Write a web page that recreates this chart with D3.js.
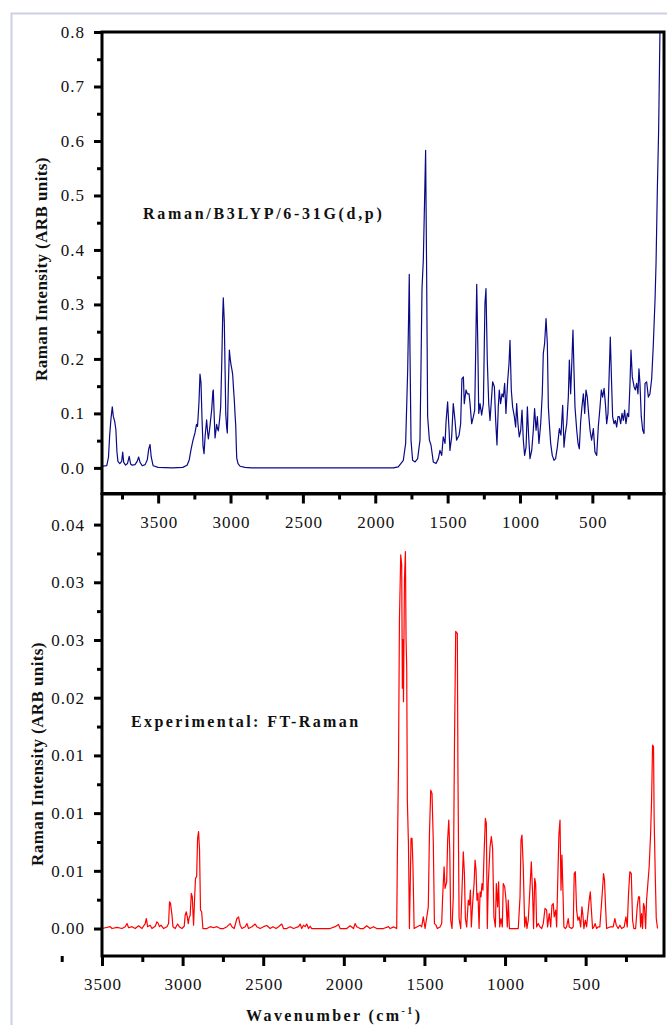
<!DOCTYPE html>
<html><head><meta charset="utf-8">
<script src="https://cdn.jsdelivr.net/npm/d3@7"></script>
<style>body{margin:0;background:#fff}svg{display:block}</style>
</head><body><svg id="c" width="667" height="1025"></svg>
<script>
// ---------- data ----------
const calcWavenumber = [3888,3855,3843,3835,3826,3817,3810,3800,3792,3785,3778,3765,3752,3745,3738,3725,3712,3700,3690,3680,3660,3645,3635,3625,3610,3590,3575,3565,3556,3548,3535,3500,3400,3330,3300,3285,3272,3260,3245,3235,3228,3218,3211,3204,3197,3190,3183,3175,3165,3158,3153,3145,3142,3130,3122,3119,3112,3107,3100,3096,3090,3084,3075,3068,3060,3054,3050,3043,3037,3033,3027,3022,3015,3008,3002,2997,2990,2985,2978,2974,2968,2964,2960,2957,2948,2934,2900,2854,1967,1875,1841,1806,1790,1776,1769,1765,1760,1753,1742,1725,1707,1691,1684,1677,1668,1659,1652,1645,1638,1626,1615,1599,1580,1564,1553,1541,1530,1518,1511,1500,1490,1484,1472,1461,1449,1438,1421,1410,1401,1391,1385,1373,1364,1352,1345,1334,1322,1313,1306,1299,1292,1285,1276,1265,1253,1242,1235,1226,1216,1207,1196,1189,1177,1168,1159,1150,1143,1134,1124,1115,1106,1097,1085,1076,1069,1060,1051,1039,1030,1023,1014,1005,995,986,977,968,958,949,940,931,919,908,899,889,880,869,857,846,839,830,820,811,804,797,788,777,765,754,742,728,717,705,696,687,677,666,659,650,643,634,627,620,608,599,590,581,572,562,553,544,535,526,516,505,493,482,470,459,447,438,429,419,410,401,392,383,376,367,360,350,341,332,323,314,304,295,286,277,268,258,249,240,233,224,212,203,194,185,178,171,162,152,143,136,125,113,102,90,79,67,60,51,42,33,25];
const calcIntensity = [0.003,0.004,0.02,0.06,0.09,0.112,0.095,0.085,0.07,0.03,0.012,0.008,0.012,0.029,0.01,0.005,0.008,0.021,0.007,0.005,0.006,0.012,0.02,0.01,0.004,0.006,0.015,0.035,0.043,0.02,0.004,0.001,0,0.001,0.005,0.015,0.035,0.05,0.065,0.08,0.076,0.12,0.172,0.156,0.09,0.04,0.026,0.06,0.088,0.065,0.053,0.07,0.077,0.107,0.14,0.143,0.09,0.055,0.07,0.08,0.072,0.068,0.09,0.112,0.2,0.28,0.312,0.268,0.17,0.1,0.075,0.064,0.15,0.216,0.2,0.19,0.18,0.171,0.14,0.125,0.095,0.077,0.04,0.018,0.008,0.003,0.001,0,0,0,0.002,0.014,0.045,0.179,0.286,0.355,0.213,0.051,0.014,0.011,0.017,0.051,0.185,0.329,0.381,0.494,0.583,0.357,0.094,0.051,0.042,0.011,0.008,0.017,0.032,0.023,0.057,0.045,0.084,0.121,0.069,0.032,0.057,0.118,0.087,0.051,0.06,0.081,0.164,0.167,0.118,0.143,0.136,0.136,0.118,0.081,0.094,0.106,0.216,0.337,0.234,0.1,0.118,0.097,0.118,0.302,0.329,0.198,0.118,0.087,0.13,0.158,0.149,0.087,0.042,0.112,0.143,0.118,0.136,0.13,0.155,0.1,0.16,0.191,0.234,0.143,0.112,0.094,0.075,0.118,0.081,0.057,0.069,0.106,0.051,0.023,0.038,0.112,0.057,0.017,0.032,0.069,0.109,0.069,0.094,0.045,0.081,0.136,0.21,0.228,0.274,0.228,0.112,0.081,0.045,0.023,0.014,0.017,0.038,0.072,0.06,0.115,0.038,0.063,0.081,0.13,0.198,0.136,0.185,0.253,0.179,0.112,0.069,0.045,0.035,0.084,0.112,0.136,0.1,0.143,0.13,0.1,0.069,0.051,0.072,0.029,0.023,0.075,0.112,0.143,0.13,0.146,0.118,0.081,0.1,0.179,0.24,0.155,0.094,0.081,0.087,0.075,0.094,0.094,0.081,0.1,0.087,0.106,0.081,0.1,0.094,0.155,0.216,0.167,0.149,0.143,0.155,0.136,0.182,0.155,0.094,0.069,0.063,0.155,0.158,0.13,0.136,0.164,0.225,0.308,0.375,0.51,0.62,0.8,0.95];

const exptWavenumber = [3500,3449,3438,3407,3376,3356,3345,3335,3314,3294,3273,3252,3232,3225,3217,3201,3190,3170,3159,3153,3143,3134,3118,3097,3087,3081,3075,3066,3060,3046,3031,3021,3004,2990,2984,2977,2971,2965,2959,2953,2946,2940,2932,2926,2920,2913,2907,2901,2895,2889,2882,2874,2849,2829,2808,2787,2767,2746,2725,2705,2694,2680,2663,2653,2643,2632,2612,2601,2591,2570,2550,2540,2519,2498,2478,2457,2440,2420,2405,2385,2374,2354,2333,2312,2281,2271,2261,2250,2240,2230,2219,2209,2199,2168,2126,2085,2054,2033,2023,1982,1961,1940,1930,1920,1899,1878,1858,1837,1816,1796,1754,1723,1713,1690,1672,1668,1661,1655,1647,1641,1637,1633,1630,1624,1618,1614,1610,1606,1599,1593,1589,1583,1577,1571,1564,1548,1527,1517,1507,1496,1476,1469,1461,1453,1445,1438,1428,1420,1403,1393,1387,1378,1372,1362,1356,1349,1343,1337,1329,1321,1314,1306,1300,1296,1292,1285,1275,1267,1259,1252,1246,1238,1228,1221,1215,1209,1201,1192,1186,1180,1174,1168,1161,1155,1149,1143,1137,1131,1122,1116,1110,1104,1093,1085,1077,1069,1060,1054,1046,1040,1033,1025,1017,1011,1002,994,986,980,973,959,938,918,907,901,895,887,878,870,864,856,845,837,829,823,816,810,804,794,783,773,763,752,742,736,726,717,709,701,695,686,680,672,666,659,653,647,641,635,626,618,608,602,587,577,571,564,556,548,540,531,523,517,511,502,494,484,478,471,465,457,449,441,432,422,412,403,395,389,383,376,370,350,329,319,310,298,288,277,261,250,242,234,226,217,209,201,190,180,172,166,159,153,147,141,135,128,122,114,106,97,91,85,79,75,68,62,54];
const exptIntensity = [0,0.00016,0,0.0001,0,0.00016,0.00043,0.00007,0.00016,0,0.00024,0,0.00043,0.00087,0.00016,0.00029,0,0.0002,0.00058,0.00049,0.00016,0.00029,0,0.00016,0.00043,0.00232,0.00218,0.00116,0.00016,0,0.00039,0.00016,0,0.0002,0.00116,0.00145,0.00101,0.00043,0.00096,0.00116,0.00305,0.00276,0.00029,0.00247,0.00435,0.00449,0.00781,0.00839,0.0068,0.0016,0.00145,0,0,0.00016,0.00007,0.00016,0,0,0.00016,0.00043,0.00016,0,0.00087,0.00101,0.00029,0,0.00016,0.00043,0,0.00016,0.00039,0.00016,0,0.00016,0.00026,0,0.00016,0,0.00016,0.00039,0,0,0.00016,0,0.00016,0.00039,0,0.00029,0.00016,0.00039,0,0.0002,0,0,0,0,0.00016,0.00035,0,0,0.00024,0,0.00043,0.00016,0,0,0.00024,0,0.00016,0,0,0.00016,0,0.00014,0,0.00607,0.01402,0.02674,0.03237,0.0315,0.02082,0.02503,0.01966,0.0302,0.03266,0.02503,0.02269,0.01113,0.00723,0,0.00304,0.00781,0.00781,0.00535,0,0.00014,0.00029,0.00014,0.00101,0,0.00188,0.0081,0.01199,0.0117,0.00752,0.00043,0.00029,0,0.00014,0.00043,0.00275,0.00535,0.00347,0.00405,0.00767,0.0094,0.0068,0.00072,0,0.00275,0.01546,0.02575,0.0256,0.0256,0.01316,0.00087,0,0.00332,0.00665,0.00477,0.00087,0.00014,0.00246,0.00202,0.00332,0.00014,0.00217,0.0039,0.00593,0.00506,0.00246,0.00304,0,0.00318,0.00275,0.0039,0.00332,0.00607,0.00955,0.00911,0,0.0039,0.00709,0.00796,0.00694,0.00101,0.00014,0.0039,0.00188,0.00405,0.00014,0.00087,0.00014,0.0039,0.00361,0.00246,0.00014,0.00246,0,0,0,0,0.00275,0.00767,0.0081,0.00535,0.00014,0.00101,0,0.00072,0.00361,0.00578,0.00304,0,0.00434,0.0039,0.00014,0.00043,0.00014,0,0.00043,0.00174,0.00159,0.00014,0.0013,0.00014,0.00202,0.00217,0.00101,0.00159,0.00014,0.00477,0.0081,0.0094,0.00332,0.00636,0.00332,0.00014,0,0.00014,0.00087,0.00014,0,0.00014,0.00477,0.00492,0.00159,0.00072,0.00101,0.00014,0.00188,0.00116,0,0.00072,0.00014,0.00159,0.00246,0.00318,0.00174,0,0.00014,0.00043,0,0.00014,0.00014,0.00188,0.00347,0.00477,0.00419,0.00174,0,0.00014,0.00014,0.00087,0.00029,0,0.00029,0,0.00014,0.00101,0.00014,0.00304,0.00492,0.00477,0.00072,0,0,0.00188,0.00275,0.00275,0.00014,0.0013,0,0.00217,0.00188,0,0.00246,0.0039,0.00535,0.00825,0.01113,0.0159,0.01575,0.0094,0.00448,0.00087,0];

const xTickValues = [3500,3000,2500,2000,1500,1000,500];
const xMinorTickValues = [3750,3250,2750,2250,1750,1250,750,250];
const topYTickValues = [0,0.1,0.2,0.3,0.4,0.5,0.6,0.7,0.8];
const topYTickLabels = ["0.0","0.1","0.2","0.3","0.4","0.5","0.6","0.7","0.8"];
const topYMinorTickValues = [0.05,0.15,0.25,0.35,0.45,0.55,0.65,0.75];
const bottomYTickValues = [0,0.005,0.01,0.015,0.02,0.025,0.03,0.035];
const bottomYTickLabels = ["0.00","0.01","0.01","0.01","0.02","0.03","0.03","0.04"];
const bottomYMinorTickValues = [0.0025,0.0075,0.0125,0.0175,0.0225,0.0275,0.0325];
const topLabel = "Raman/B3LYP/6-31G(d,p)";
const bottomLabel = "Experimental: FT-Raman";
const yTitle = "Raman Intensity (ARB units)";

// ---------- layout ----------
const svg = d3.select("#c");
const L = 102, R = 664;
const T1 = 32, B1 = 493.5, T2 = 494, B2 = 956;
const serif = "'Liberation Serif','Times New Roman',serif";

svg.append("rect").attr("width",667).attr("height",1025).attr("fill","#fff");
// outer figure border
svg.append("path").attr("d","M11.5,1025 V13.5 H667").attr("fill","none")
  .attr("stroke","#cdd0e4").attr("stroke-width",2);

const xTop = d3.scaleLinear().domain([3888, 5]).range([L, R]);
const yTop = d3.scaleLinear().domain([-0.047, 0.8]).range([B1, T1]);
const xBot = d3.scaleLinear().domain([3500, 14]).range([L, R]);
const yBot = d3.scaleLinear().domain([-0.00238, 0.03765]).range([B2, T2]);

const defs = svg.append("defs");
defs.append("clipPath").attr("id","clipTop").append("rect")
  .attr("x",L).attr("y",T1).attr("width",R-L).attr("height",B1-T1);
defs.append("clipPath").attr("id","clipBot").append("rect")
  .attr("x",L).attr("y",T2).attr("width",R-L).attr("height",B2-T2);

// spectra
const calc = calcWavenumber.map((w,i)=>[w, calcIntensity[i]]);
const expt = exptWavenumber.map((w,i)=>[w, exptIntensity[i]]);
svg.append("path").datum(calc).attr("clip-path","url(#clipTop)")
  .attr("fill","none").attr("stroke","#0a0a86").attr("stroke-width",1.2)
  .attr("stroke-linejoin","round")
  .attr("d", d3.line().x(d=>xTop(d[0])).y(d=>yTop(d[1])));
svg.append("path").datum(expt).attr("clip-path","url(#clipBot)")
  .attr("fill","none").attr("stroke","#ff0000").attr("stroke-width",1.2)
  .attr("stroke-linejoin","round")
  .attr("d", d3.line().x(d=>xBot(d[0])).y(d=>yBot(d[1])));

// axes helpers
function styleAxis(g, fs){
  g.select(".domain").remove();
  g.selectAll("line").attr("stroke","#000").attr("stroke-width",3);
  g.selectAll("text").attr("font-family",serif).attr("font-size",fs)
    .attr("fill","#111").attr("letter-spacing","1px");
}
function xAxes(scale, y){
  const gMaj = svg.append("g").attr("transform",`translate(0,${y})`)
    .call(d3.axisBottom(scale).tickValues(xTickValues).tickSize(10).tickSizeOuter(0).tickFormat(d3.format("d")));
  styleAxis(gMaj, 17);
  gMaj.selectAll("text").attr("y",34).attr("dy",null).attr("dx","0.5px");
  const gMin = svg.append("g").attr("transform",`translate(0,${y})`)
    .call(d3.axisBottom(scale).tickValues(xMinorTickValues).tickSize(6).tickSizeOuter(0).tickFormat(""));
  styleAxis(gMin, 17);
}
function yAxes(scale, vals, labels, minors){
  const gMaj = svg.append("g").attr("transform",`translate(${L},0)`)
    .call(d3.axisLeft(scale).tickValues(vals).tickSize(8).tickSizeOuter(0)
      .tickFormat((d,i)=>labels[i]));
  styleAxis(gMaj, 17);
  gMaj.selectAll("text").attr("x",-17);
  const gMin = svg.append("g").attr("transform",`translate(${L},0)`)
    .call(d3.axisLeft(scale).tickValues(minors).tickSize(5).tickSizeOuter(0).tickFormat(""));
  styleAxis(gMin, 17);
}
xAxes(xTop, B1);
xAxes(xBot, B2);
yAxes(yTop, topYTickValues, topYTickLabels, topYMinorTickValues);
yAxes(yBot, bottomYTickValues, bottomYTickLabels, bottomYMinorTickValues);

// frames
svg.append("rect").attr("x",L).attr("y",T1).attr("width",R-L).attr("height",B1-T1)
  .attr("fill","none").attr("stroke","#000").attr("stroke-width",3);
svg.append("rect").attr("x",L).attr("y",T2).attr("width",R-L).attr("height",B2-T2)
  .attr("fill","none").attr("stroke","#000").attr("stroke-width",3);

// titles
svg.append("text").attr("transform","translate(47,269) rotate(-90)")
  .attr("text-anchor","middle").attr("font-family",serif).attr("font-weight","bold")
  .attr("font-size",17).attr("letter-spacing","0.4px").attr("fill","#111").text(yTitle);
svg.append("text").attr("transform","translate(43,754) rotate(-90)")
  .attr("text-anchor","middle").attr("font-family",serif).attr("font-weight","bold")
  .attr("font-size",17).attr("letter-spacing","0.4px").attr("fill","#111").text(yTitle);

svg.append("text").attr("x",143).attr("y",219).attr("font-family",serif)
  .attr("font-weight","bold").attr("font-size",16).attr("letter-spacing","2.7px")
  .attr("fill","#111").text(topLabel);
svg.append("text").attr("x",131).attr("y",727).attr("font-family",serif)
  .attr("font-weight","bold").attr("font-size",16).attr("letter-spacing","2.4px")
  .attr("fill","#111").text(bottomLabel);

const xt = svg.append("text").attr("x",246).attr("y",1021).attr("font-family",serif)
  .attr("font-weight","bold").attr("font-size",16).attr("letter-spacing","2.4px").attr("fill","#111");
xt.append("tspan").text("Wavenumber (cm");
xt.append("tspan").attr("font-size",10).attr("dy",-7).text("-1");
xt.append("tspan").attr("dy",7).text(")");
</script></body></html>
